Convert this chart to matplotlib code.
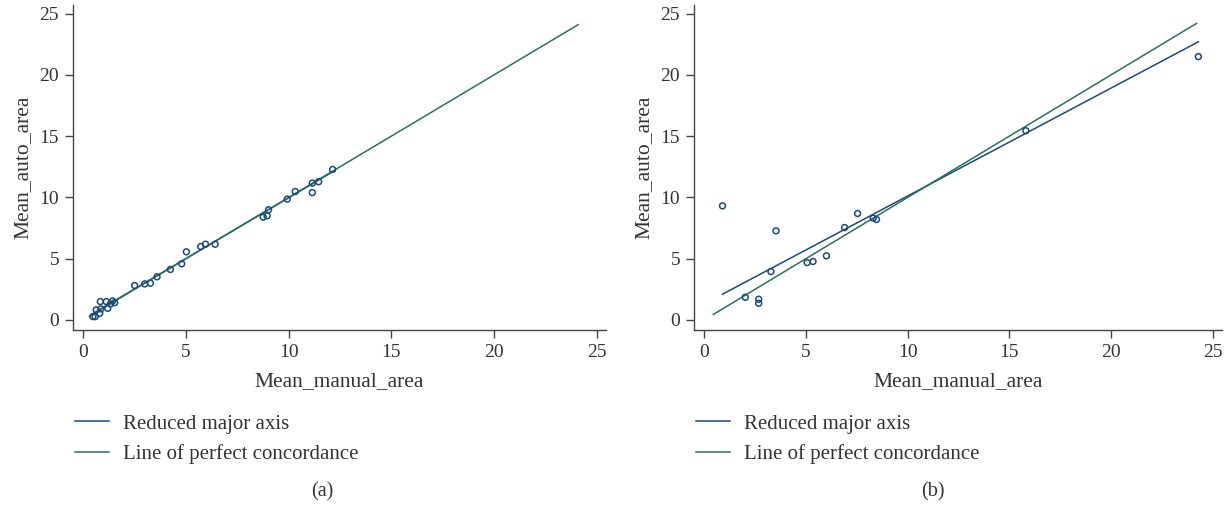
import matplotlib
matplotlib.use('Agg')
import matplotlib.pyplot as plt

# panel (a): manual vs automatic mean area
manual_a = [0.47, 0.58, 0.63, 0.80, 0.86, 0.83, 1.12, 1.19, 1.32, 1.43, 1.53,
            2.50, 2.99, 3.27, 3.59, 4.24, 4.79, 5.02, 5.72, 5.95, 6.42,
            8.76, 8.95, 9.02, 9.93, 10.32, 11.15, 11.15, 11.46, 12.14]
auto_a = [0.27, 0.27, 0.82, 0.54, 0.90, 1.50, 1.50, 0.95, 1.31, 1.55, 1.41,
          2.81, 2.94, 3.00, 3.52, 4.12, 4.58, 5.56, 5.99, 6.18, 6.18,
          8.39, 8.50, 8.99, 9.86, 10.48, 10.39, 11.17, 11.28, 12.28]
rma_a_x = [0.40, 12.20]
rma_a_y = [0.45, 12.15]
conc_a = [0.30, 24.10]

# panel (b)
manual_b = [0.90, 2.02, 2.68, 2.68, 3.28, 3.53, 5.06, 5.35, 6.01, 6.90,
            7.54, 8.31, 8.47, 15.81, 24.29]
auto_b = [9.31, 1.85, 1.69, 1.36, 3.95, 7.27, 4.68, 4.77, 5.23, 7.54,
          8.69, 8.31, 8.20, 15.44, 21.49]
rma_b_x = [0.90, 24.29]
rma_b_y = [2.10, 22.70]
conc_b = [0.45, 24.20]

ticks = [0, 5, 10, 15, 20, 25]
blue = '#1b4a78'
green = '#2b6f62'

plt.rcParams['font.family'] = ['Liberation Serif', 'DejaVu Serif']

fig = plt.figure(figsize=(12.3, 5.08), dpi=100)
W, H = 1230.0, 508.0

panels = [
    (manual_a, auto_a, rma_a_x, rma_a_y, conc_a, 73, 606, 75, '(a)', 322),
    (manual_b, auto_b, rma_b_x, rma_b_y, conc_b, 694, 1222, 696, '(b)', 933),
]

for mx, ay, rx, ry, cc, left, right, legx, cap, capx in panels:
    ax = fig.add_axes([left / W, (H - 330) / H, (right - left) / W, (330 - 5) / H])
    ax.plot(rx, ry, color=blue, lw=1.1, label='Reduced major axis', zorder=2)
    ax.plot(cc, cc, color=green, lw=1.1, label='Line of perfect concordance', zorder=2)
    ax.scatter(mx, ay, s=18, facecolors='none', edgecolors=blue, linewidths=1.1, zorder=3)
    ax.set_xlim(-0.5, 25.45)
    ax.set_ylim(-0.82, 25.7)
    ax.set_xticks(ticks)
    ax.set_yticks(ticks)
    ax.spines['top'].set_visible(False)
    ax.spines['right'].set_visible(False)
    for s in ('left', 'bottom'):
        ax.spines[s].set_color('#444444')
        ax.spines[s].set_linewidth(1.0)
    ax.tick_params(direction='out', length=6, width=1, colors='#444444',
                   labelcolor='#333333', labelsize=14, pad=4)
    ax.set_xlabel('Mean_manual_area', fontsize=15.5, color='#333333', labelpad=8)
    ax.set_ylabel('Mean_auto_area', fontsize=15.5, color='#333333', labelpad=5)
    ax.legend(loc='upper left', bbox_to_anchor=(legx / W, (H - 414) / H),
              bbox_transform=fig.transFigure, frameon=False, fontsize=15,
              handlelength=1.65, handletextpad=0.67, labelspacing=0.5,
              borderaxespad=0, borderpad=0, labelcolor='#333333')
    fig.text(capx / W, (H - 492) / H, cap, ha='center', va='center',
             fontsize=14.5, color='#333333')

fig.savefig('out.png', dpi=100)
